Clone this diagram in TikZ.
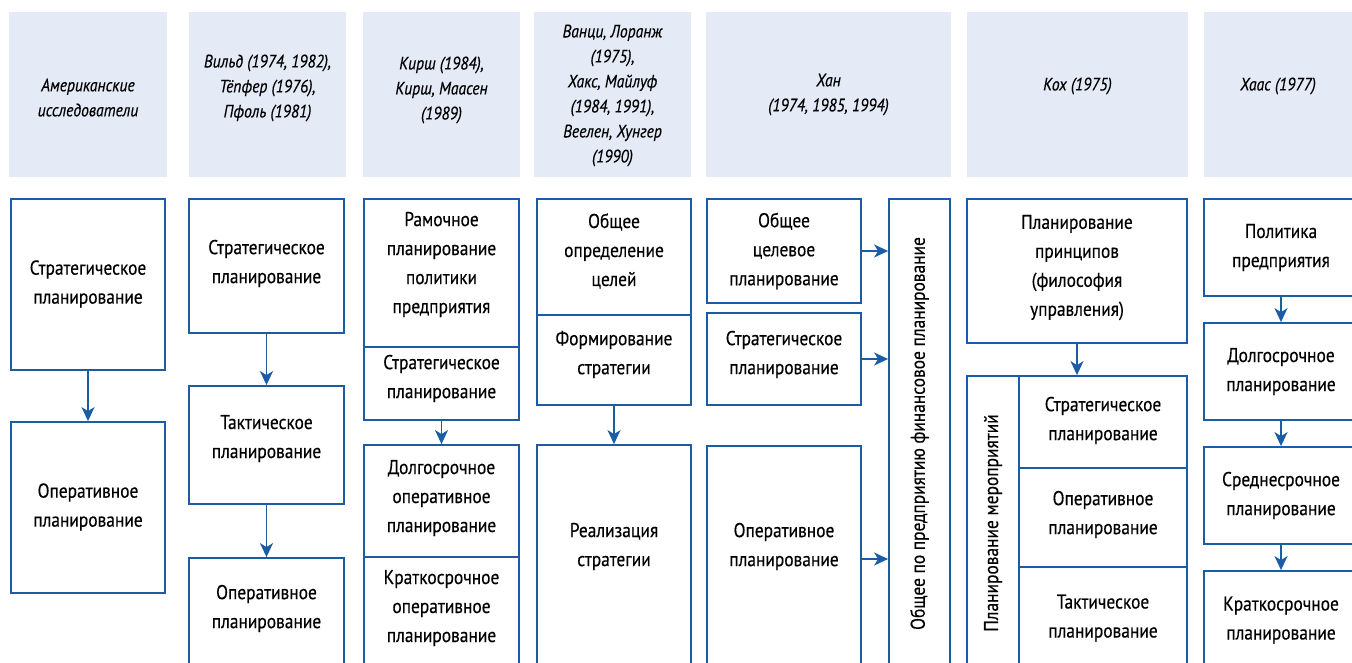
\documentclass[tikz,border=0pt]{standalone}
\usepackage{fontspec}
\setmainfont{PT Sans}[FakeStretch=0.87,FakeBold=0.35]
\usetikzlibrary{arrows.meta,fit}
\definecolor{bl}{HTML}{1B5CA5}
\definecolor{hd}{HTML}{E4EBF7}
\tikzset{
  box/.style={draw=bl, line width=1.8pt, inner sep=0pt, fill=white},
  hdr/.style={fill=hd, draw=none, inner sep=0pt},
  txt/.style={align=center, inner sep=0pt, font=\fontsize{20}{29}\selectfont},
  htxt/.style={align=center, inner sep=0pt, font=\fontsize{18}{25}\selectfont\itshape},
  arr/.style={draw=bl, line width=1.8pt, -{Stealth[length=14pt,width=13pt,inset=4pt]}}
}
\newcommand\bx[6][box]{\node[#1, fit={(#3,#4)(#5,#6)}] (#2) {};}
\newcommand\tx[4]{\node[txt] (#1) at (#2,#3) {#4};}
\newcommand\hx[4]{\node[htxt] (#1) at (#2,#3) {#4};}
\begin{document}
\begin{tikzpicture}[x=1pt,y=-1pt]
\useasboundingbox (0,0) rectangle (1352,663);
\clip (0,0) rectangle (1352,663);
% headers
\bx[hdr]{h1}{9}{12}{167}{177}
\bx[hdr]{h2}{189}{12}{346}{177}
\bx[hdr]{h3}{363}{12}{520}{177}
\bx[hdr]{h4}{534}{12}{691}{177}
\bx[hdr]{h5}{706}{12}{951}{177}
\bx[hdr]{h6}{967}{12}{1188}{177}
\bx[hdr]{h7}{1204}{12}{1362}{177}
\hx{ht1}{88}{97.5}{Американские\\исследователи}
\hx{ht2}{267.5}{88}{Вильд (1974, 1982),\\Тёпфер (1976),\\Пфоль (1981)}
\hx{ht3}{441.5}{90}{Кирш (1984),\\Кирш, Маасен\\(1989)}
\hx{ht4}{612.5}{95.5}{Ванци, Лоранж\\(1975),\\Хакс, Майлуф\\(1984, 1991),\\Веелен, Хунгер\\(1990)}
\hx{ht5}{828.5}{94.5}{Хан\\(1974, 1985, 1994)}
\hx{ht6}{1077.5}{86}{Кох (1975)}
\hx{ht7}{1278}{86}{Хаас (1977)}
% column 1
\bx{c1a}{11}{199}{165}{370}
\bx{c1b}{11}{422}{165}{593}
\tx{t1a}{88}{284}{Стратегическое\\планирование}
\tx{t1b}{88}{507}{Оперативное\\планирование}
% column 2
\bx{c2a}{189}{199}{344}{333}
\bx{c2b}{189}{386}{344}{504}
\bx{c2c}{189}{558}{344}{680}
\tx{t2a}{266.5}{263.5}{Стратегическое\\планирование}
\tx{t2b}{266.5}{438.5}{Тактическое\\планирование}
\tx{t2c}{266.5}{608.5}{Оперативное\\планирование}
% column 3
\bx{c3a}{364}{199}{519}{347}
\bx{c3b}{364}{347}{519}{420}
\bx{c3c}{364}{445}{519}{557}
\bx{c3d}{364}{557}{519}{680}
\tx{t3a}{441.5}{264.5}{Рамочное\\планирование\\политики\\предприятия}
\tx{t3b}{441.5}{378.5}{Стратегическое\\планирование}
\tx{t3c}{441.5}{498}{Долгосрочное\\оперативное\\планирование}
\tx{t3d}{441.5}{608}{Краткосрочное\\оперативное\\планирование}
% column 4
\bx{c4a}{537}{199}{691}{315}
\bx{c4b}{537}{315}{691}{405}
\bx{c4c}{537}{445}{691}{680}
\tx{t4a}{614}{251}{Общее\\определение\\целей}
\tx{t4b}{614}{354.5}{Формирование\\стратегии}
\tx{t4c}{614}{546.5}{Реализация\\стратегии}
% column 5
\bx{c5a}{707}{199}{861}{303}
\bx{c5b}{707}{313}{861}{405}
\bx{c5c}{707}{446}{861}{672}
\bx{c5d}{889}{199}{950}{690}
\tx{t5a}{784}{251}{Общее\\целевое\\планирование}
\tx{t5b}{784}{354.5}{Стратегическое\\планирование}
\tx{t5c}{784}{546.5}{Оперативное\\планирование}
\node[txt, rotate=90] (t5d) at (919.5,433.5) {Общее по предприятию финансовое планирование};
% column 6
\bx{c6a}{967}{199}{1187}{343}
\bx{c6b}{967}{376}{1187}{690}
\bx{c6s1}{1019}{376}{1187}{468}
\bx{c6s2}{1019}{468}{1187}{567}
\bx{c6s3}{1019}{567}{1187}{690}
\tx{t6a}{1077}{267.5}{Планирование\\принципов\\(философия\\управления)}
\node[txt, rotate=90] (t6b) at (993,523) {Планирование мероприятий};
\tx{t6s1}{1103}{420.5}{Стратегическое\\планирование}
\tx{t6s2}{1103}{514.5}{Оперативное\\планирование}
\tx{t6s3}{1103}{618}{Тактическое\\планирование}
% column 7
\bx{c7a}{1204}{199}{1358}{296}
\bx{c7b}{1204}{323}{1358}{420}
\bx{c7c}{1204}{447}{1358}{544}
\bx{c7d}{1204}{571}{1358}{690}
\tx{t7a}{1281}{247.5}{Политика\\предприятия}
\tx{t7b}{1281}{371.5}{Долгосрочное\\планирование}
\tx{t7c}{1281}{495.5}{Среднесрочное\\планирование}
\tx{t7d}{1281}{620}{Краткосрочное\\планирование}
% arrows
\draw[arr] (c1a) -- (c1b);
\draw[arr] (c2a) -- (c2b);
\draw[arr] (c2b) -- (c2c);
\draw[arr] (c3b.south) -- (c3c.north);
\draw[arr] (c4b.south) -- (c4c.north);
\draw[arr] (c5a.east) -- (c5a.east -| c5d.west);
\draw[arr] (c5b.east) -- (c5b.east -| c5d.west);
\draw[arr] (c5c.east) -- (c5c.east -| c5d.west);
\draw[arr] (c6a.south) -- (c6a.south |- c6b.north);
\draw[arr] (c7a.south) -- (c7b.north);
\draw[arr] (c7b.south) -- (c7c.north);
\draw[arr] (c7c.south) -- (c7d.north);
\end{tikzpicture}
\end{document}
